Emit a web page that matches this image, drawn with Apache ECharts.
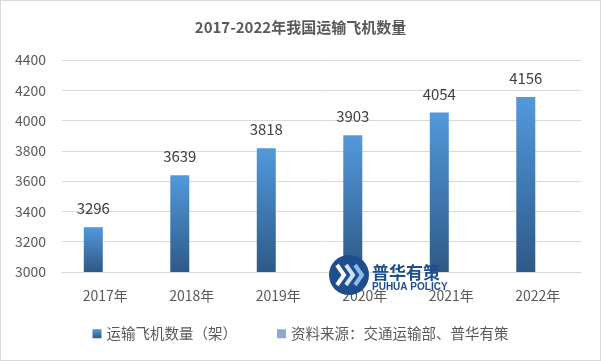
<!DOCTYPE html>
<html><head><meta charset="utf-8">
<script src="https://cdn.jsdelivr.net/npm/echarts@6/dist/echarts.min.js"></script>
<style>html,body{margin:0;padding:0;background:#fff}#c{width:601px;height:361px;box-sizing:border-box;border:1px solid #d9d9d9}</style>
</head><body><div id="c"></div>
<script>
var categories = ['2017年','2018年','2019年','2020年','2021年','2022年'];
var planeCounts = [3296, 3639, 3818, 3903, 4054, 4156];
var sourceValues = [];
var yTicks = {min: 3000, max: 4400, interval: 200};
var FONT = "'Microsoft YaHei','Noto Sans CJK SC',sans-serif";
var chart = echarts.init(document.getElementById('c'));
chart.setOption({
  animation: false,
  textStyle: {fontFamily: FONT},
  title: {text: '2017-2022年我国运输飞机数量', left: 'center', top: 14,
    textStyle: {fontSize: 15, fontWeight: 'bold', color: '#595959', fontFamily: FONT}},
  grid: {left: 61, right: 19, top: 59, bottom: 88},
  legend: {bottom: 14, left: 'center', itemWidth: 9, itemHeight: 9, itemGap: 40, icon: 'rect',
    textStyle: {fontSize: 14.5, color: '#595959', fontFamily: FONT},
    data: ['运输飞机数量（架）', '资料来源：交通运输部、普华有策']},
  xAxis: {type: 'category', data: categories,
    axisLine: {lineStyle: {color: '#d9d9d9'}}, axisTick: {show: false},
    axisLabel: {fontSize: 14, color: '#595959', margin: 17}},
  yAxis: {type: 'value', min: yTicks.min, max: yTicks.max, interval: yTicks.interval,
    axisLine: {show: false}, axisTick: {show: false},
    axisLabel: {fontSize: 14, color: '#595959', margin: 16, formatter: function(v){return String(v);}},
    splitLine: {lineStyle: {color: '#d9d9d9'}}},
  series: [
    {name: '运输飞机数量（架）', type: 'bar', data: planeCounts, barWidth: 19, barGap: '26%',
      itemStyle: {color: new echarts.graphic.LinearGradient(0,0,0,1,[{offset:0,color:'#5299DC'},{offset:1,color:'#2E5987'}])},
      label: {show: true, position: 'top', distance: 11, fontSize: 15, color: '#404040', fontFamily: FONT}},
    {name: '资料来源：交通运输部、普华有策', type: 'bar', data: sourceValues, barWidth: 19,
      itemStyle: {color: '#8FA6D6'}}
  ],
  graphic: [
    {type: 'circle', shape: {cx: 348, cy: 274, r: 20}, style: {fill: '#1E4E8C'}, z: 100},
    {type: 'polyline', shape: {points: [[336,264],[343,274],[336,284]]}, style: {stroke: '#ffffff', lineWidth: 4, fill: null}, z: 101},
    {type: 'polyline', shape: {points: [[345,264],[352,274],[345,284]]}, style: {stroke: '#cfe2f5', lineWidth: 4, fill: null}, z: 101},
    {type: 'polyline', shape: {points: [[354,264],[361,274],[354,284]]}, style: {stroke: '#8fb9e6', lineWidth: 4, fill: null}, z: 101},
    {type: 'text', left: 371, top: 263, style: {text: '普华有策', fontSize: 17, fontWeight: 'bold', fill: '#1E4E8C', fontFamily: FONT}, z: 100},
    {type: 'text', left: 371, top: 281, style: {text: 'PUHUA POLICY', fontSize: 10, fontWeight: 'bold', fill: '#1E4E8C', fontFamily: 'Liberation Sans, Arial'}, z: 100}
  ]
});
</script></body></html>
